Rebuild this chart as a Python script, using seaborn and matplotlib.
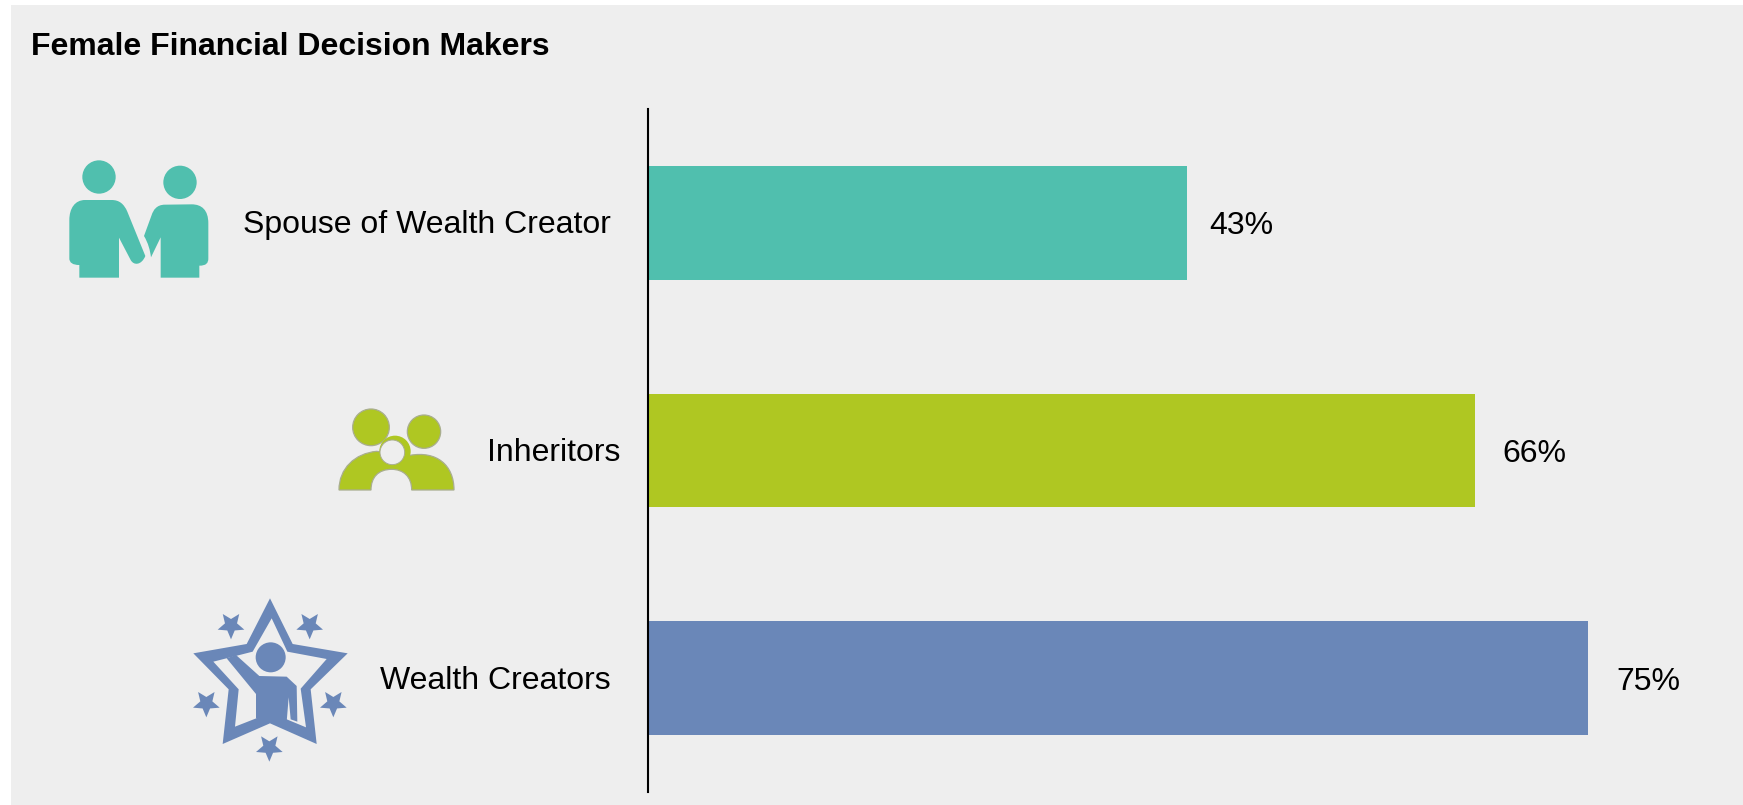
import numpy as np
import matplotlib
matplotlib.use("Agg")
import matplotlib.pyplot as plt
from matplotlib.patches import Circle, PathPatch, Polygon, Rectangle
from matplotlib.path import Path
import pandas as pd
import seaborn as sns

# Chart data
categories = ["Spouse of Wealth Creator", "Inheritors", "Wealth Creators"]
shares = [43, 66, 75]
bar_colors = ["#50BFAE", "#AFC722", "#6A87B8"]
title = "Female Financial Decision Makers"

W, H = 1743, 805
PANEL = "#EEEEEE"

sns.set_theme(style="white")
plt.rcParams["font.family"] = ["Liberation Sans", "DejaVu Sans"]

fig = plt.figure(figsize=(W / 100, H / 100), dpi=100, facecolor="white")
fig.patches.append(Rectangle((11 / W, 0), 1 - 11 / W, 1 - 5 / H, transform=fig.transFigure,
                             facecolor=PANEL, edgecolor="none", zorder=-1))

# Bar axes: left edge is the vertical baseline
left, right, top, bottom = 648, W, 109, 792
ax = fig.add_axes([left / W, 1 - bottom / H, (right - left) / W, (bottom - top) / H])
ax.patch.set_alpha(0)

df = pd.DataFrame({"category": categories, "share": shares})
sns.barplot(data=df, x="share", y="category", hue="category", order=categories,
            hue_order=categories, palette=bar_colors, width=0.5, legend=False,
            saturation=1, linewidth=0, ax=ax)
ax.set_xlim(0, (right - left) / 12.53)
ax.set_ylim(2.5, -0.5)
ax.set_xlabel("")
ax.set_ylabel("")
ax.set_xticks([])
ax.set_yticks([])
sns.despine(ax=ax, top=True, right=True, bottom=True)
ax.spines["left"].set_color("black")
ax.spines["left"].set_linewidth(1.5)

# Value labels to the right of each bar
label_gaps_px = [22, 27, 29]
for i, (value, gap) in enumerate(zip(shares, label_gaps_px)):
    ax.annotate(f"{value}%", (value, i), xytext=(gap * 0.72, -2.5), textcoords="offset points",
                fontsize=23, color="black", ha="left", va="center")

# Overlay in pixel coordinates for title, category labels and pictograms
ov = fig.add_axes([0, 0, 1, 1], zorder=5)
ov.set_xlim(0, W)
ov.set_ylim(H, 0)
ov.axis("off")

ov.text(31, 47, title, fontsize=23, fontweight="bold", color="black", va="center", ha="left")
label_right = [611, 620, 611]
label_y = [225, 453, 681]
for name, x, y in zip(categories, label_right, label_y):
    ov.text(x, y, name, fontsize=23, color="black", ha="right", va="center")


def curved(origin, start, segments, close=True):
    """Build a path from a start point and segments of 1 (line) or 3 (cubic) points."""
    ox, oy = origin
    verts, codes = [start], [Path.MOVETO]
    for seg in segments:
        if len(seg) == 1:
            verts += seg
            codes += [Path.LINETO]
        else:
            verts += seg
            codes += [Path.CURVE4] * 3
    if close:
        verts.append(start)
        codes.append(Path.CLOSEPOLY)
    verts = [(ox + vx / 3, oy + vy / 3) for vx, vy in verts]
    return Path(verts, codes)


def disc(origin, cx, cy, r, **kw):
    ov.add_patch(Circle((origin[0] + cx / 3, origin[1] + cy / 3), r / 3, **kw))


# Couple pictogram
o1 = (40, 130)
teal = bar_colors[0]
disc(o1, 177, 141, 50, fc=teal, ec="none")
disc(o1, 420, 157, 50, fc=teal, ec="none")
ov.add_patch(PathPatch(curved(o1, (118, 443), [
    [(237, 443)], [(237, 323)], [(272, 390)],
    [(282, 408), (305, 405), (316, 378)],
    [(262, 245)],
    [(252, 222), (238, 210), (215, 210)],
    [(135, 210)],
    [(105, 210), (88, 235), (88, 270)],
    [(88, 385)],
    [(88, 398), (98, 405), (118, 405)],
]), fc=teal, ec="none"))
ov.add_patch(PathPatch(curved(o1, (362, 443), [
    [(478, 443)], [(478, 407)],
    [(498, 407), (505, 400), (505, 385)],
    [(505, 280)],
    [(505, 240), (485, 223), (455, 223)],
    [(375, 224)],
    [(350, 224), (340, 240), (335, 255)],
    [(312, 318)],
    [(325, 340), (330, 360), (333, 382)],
    [(362, 322)],
]), fc=teal, ec="none"))

# Family pictogram
o2 = (320, 390)
lime = bar_colors[1]
rim = "#A9AE8F"
disc(o2, 153, 112, 55, fc=lime, ec=rim, lw=0.9)
disc(o2, 312, 125, 50, fc=lime, ec=rim, lw=0.9)
ov.add_patch(PathPatch(curved(o2, (57, 300), [
    [(57, 235), (105, 190), (170, 184)],
    [(270, 196)],
    [(350, 182), (402, 225), (402, 300)],
    [(275, 300)],
    [(275, 260), (250, 238), (215, 238)],
    [(175, 238), (153, 262), (153, 300)],
]), fc=lime, ec=rim, lw=0.9))
disc(o2, 225, 184, 47, fc=lime, ec="none")
disc(o2, 217, 187, 37, fc=PANEL, ec=rim, lw=0.7)

# Star pictogram
o3 = (180, 590)
blue = bar_colors[2]


def to_px(origin, points):
    return [(origin[0] + x / 3, origin[1] + y / 3) for x, y in points]


ov.add_patch(Polygon(to_px(o3, [(270, 25), (338, 162), (503, 190), (392, 298), (410, 462),
                                (270, 400), (128, 462), (146, 298), (40, 190), (200, 162)]),
                     fc=blue, ec="none"))
ov.add_patch(Polygon(to_px(o3, [(275, 85), (322, 185), (440, 207), (362, 296), (378, 412),
                                (272, 368), (165, 410), (176, 298), (100, 215), (218, 185)]),
                     fc=PANEL, ec="none"))
disc(o3, 272, 202, 45, fc=blue, ec="none")
ov.add_patch(Polygon(to_px(o3, [(140, 205), (168, 195), (238, 258), (320, 260), (350, 288),
                                (352, 395), (332, 388), (326, 322), (320, 395),
                                (270, 395), (228, 385), (228, 312)]),
                     fc=blue, ec="none"))


def small_star(origin, cx, cy, R=42, r=19):
    # Five-pointed star with one point facing down
    angles = np.pi / 2 + np.arange(10) * np.pi / 5
    radii = np.where(np.arange(10) % 2 == 0, R, r)
    pts = [(cx + a * np.cos(t), cy + a * np.sin(t)) for a, t in zip(radii, angles)]
    ov.add_patch(Polygon(to_px(origin, pts), fc=blue, ec="none"))


for cx, cy in [(153, 106), (389, 106), (79, 340), (460, 340), (268, 473)]:
    small_star(o3, cx, cy)

fig.savefig("out.png", dpi=100, facecolor=fig.get_facecolor())
